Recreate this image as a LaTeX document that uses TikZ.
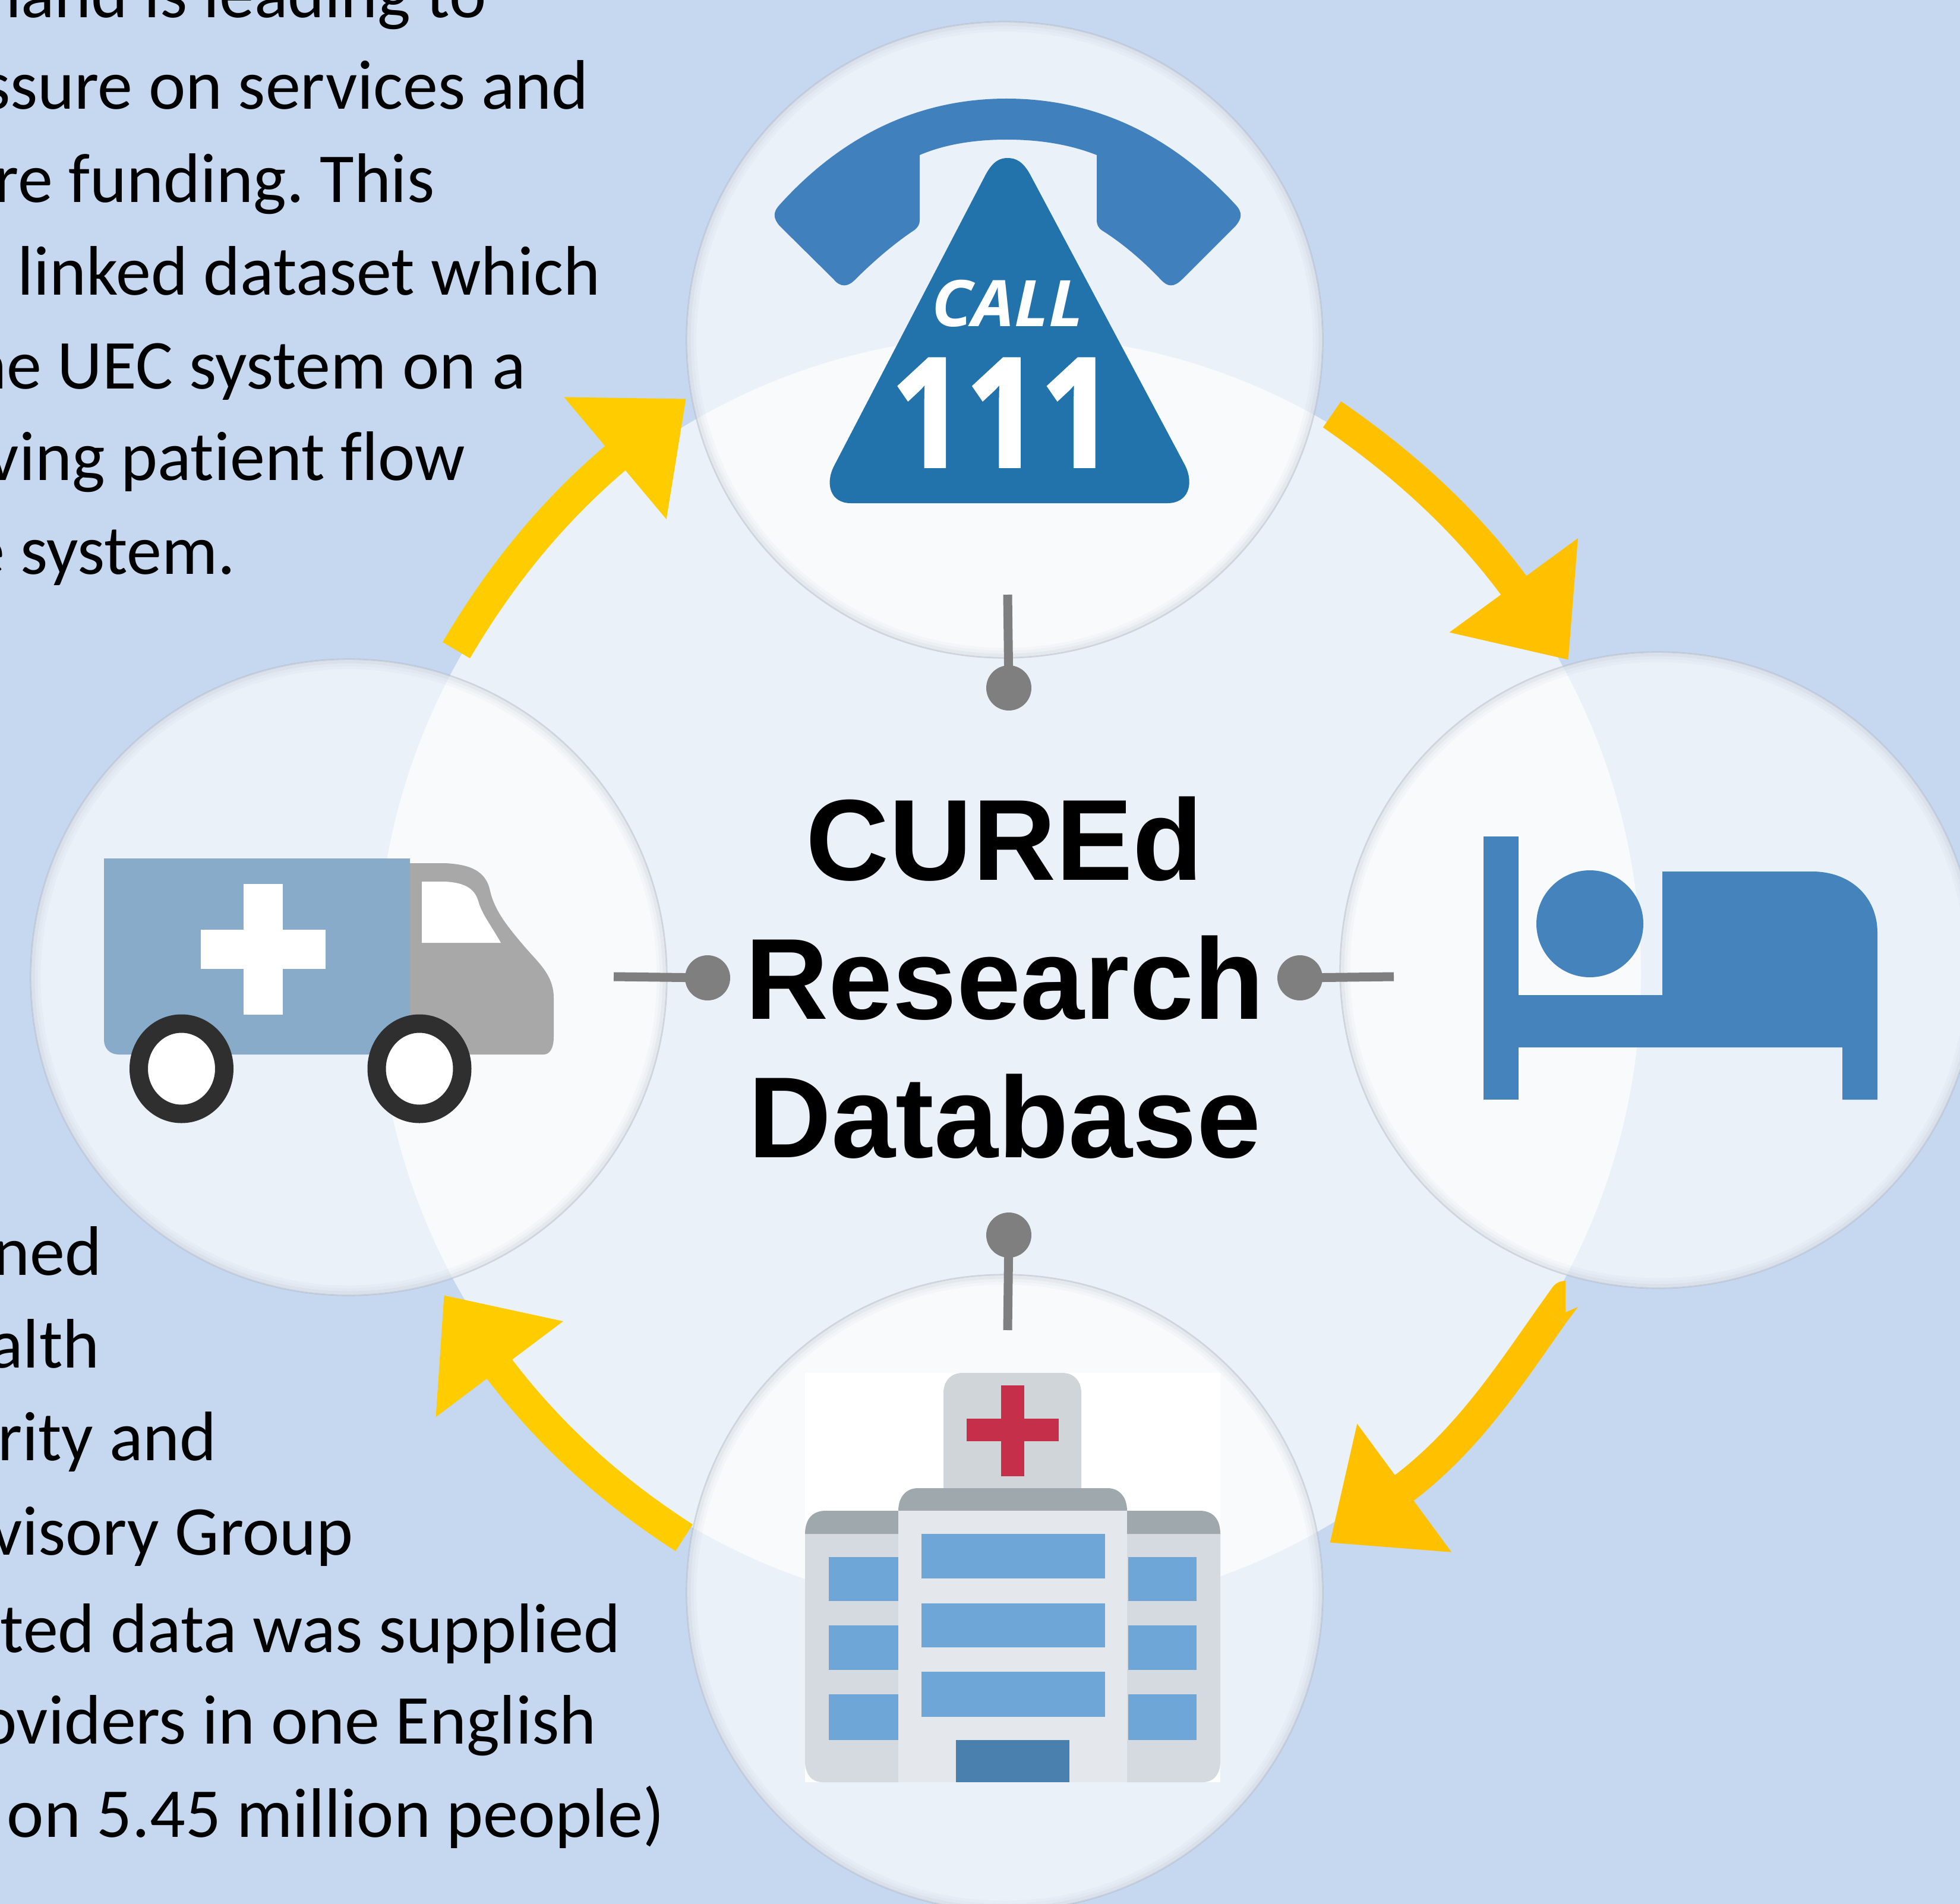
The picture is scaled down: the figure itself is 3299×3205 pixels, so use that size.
\documentclass[tikz,border=0pt]{standalone}
\usepackage{fontspec}
\setmainfont{Carlito}[Ligatures=NoCommon]
\newfontfamily\arialf{Liberation Sans}
\newfontfamily\numf{Open Sans}[BoldFeatures={FakeBold=1.5}]
\usetikzlibrary{arrows.meta}
\definecolor{bgc}{HTML}{C6D8EF}
\definecolor{shadec}{HTML}{7E88A0}
\definecolor{ygold}{HTML}{FFCC00}
\definecolor{yamber}{HTML}{FFC000}
\definecolor{pinc}{HTML}{7F7F7F}
\definecolor{bedc}{HTML}{4483BC}
\definecolor{handc}{HTML}{4080BC}
\definecolor{tric}{HTML}{2272AB}
\definecolor{boxc}{HTML}{87ABC9}
\definecolor{cabc}{HTML}{A8A8A8}
\definecolor{tyrec}{HTML}{2F2F2F}
\definecolor{signc}{HTML}{CFD5D9}
\definecolor{crossc}{HTML}{C62F4A}
\definecolor{roofc}{HTML}{9FA8AD}
\definecolor{midc}{HTML}{E4E8EC}
\definecolor{sidec}{HTML}{D5DAE0}
\definecolor{winc}{HTML}{6FA6D8}
\definecolor{doorc}{HTML}{4A80AE}
\tikzset{
  disc/.style={circle,minimum size=536pt,inner sep=0pt,fill=white,fill opacity=.65},
  pindot/.style={circle,minimum size=38pt,inner sep=0pt,fill=pinc},
  pinline/.style={draw=pinc,line width=7.5pt},
  flow/.style={line width=26.7pt,-{Triangle[length=78pt,width=129pt]}},
  body/.style={anchor=base east,inner sep=0pt,font=\fontsize{59}{70}\selectfont\frenchspacing,text=black},
  title/.style={anchor=base,inner sep=0pt,font=\arialf\bfseries\fontsize{97}{110}\selectfont,text=black}
}
\begin{document}
\begin{tikzpicture}[x=.5pt,y=-.5pt]
\useasboundingbox (0,0) rectangle (3299,3205);
\clip (0,0) rectangle (3299,3205);
\fill[bgc] (0,0) rectangle (3299,3205);
% texts
\node[body] (a0) at (819,30) {mand is leading to};
\node[body] (a1) at (991,184) {ssure on services and};
\node[body] (a2) at (732,341) {re funding. This};
\node[body] (a3) at (1011,496) {linked dataset which};
\node[body] (a4) at (885,654) {he UEC system on a};
\node[body] (a5) at (783,808) {ving patient flow};
\node[body] (a6) at (397,966) {e system.};
\node[body] (b0) at (172,2146) {ned};
\node[body] (b1) at (168,2302) {alth};
\node[body] (b2) at (365,2458) {rity and};
\node[body] (b3) at (595,2617) {visory Group};
\node[body] (b4) at (1045,2781) {ted data was supplied};
\node[body] (b5) at (1004,2935) {oviders in one English};
\node[body] (b6) at (1119,3092) {on 5.45 million people)};
% discs
\fill[white,fill opacity=.65] (1698,1640) ellipse [x radius=532pt,y radius=537.5pt];
\node[disc] (top) at (1691,572) {};
\node[disc] (right) at (2791,1633) {};
\node[disc] (bottom) at (1691,2681) {};
\node[disc] (left) at (587,1645) {};
\foreach \d in {top,right,bottom,left}{
  \foreach \r/\w/\o in {267.6/1.4/.32,265.5/2.5/.15,263/2.5/.08,260.5/2.5/.04}
    \draw[shadec,draw opacity=\o,line width=\w pt] (\d.center) circle [radius=\r pt];
}
% arrows
\coordinate (tlA) at (768,1094.5); \coordinate (tlB) at (1155,671);
\coordinate (trA) at (2242,697.5); \coordinate (trB) at (2640,1111);
\coordinate (brA) at (2613,2213); \coordinate (brB) at (2238,2597);
\coordinate (blA) at (1151.5,2588.5); \coordinate (blB) at (747,2180);
\draw[flow,ygold] (tlA) .. controls (839,974) and (926,863) .. (tlB);
\draw[flow,yamber] (trA) .. controls (2357,777) and (2463,869.5) .. (trB);
\draw[flow,yamber] (brA) .. controls (2541,2315) and (2468,2428) .. (brB);
\fill[yamber] (2591,2198) -- (2613,2167) .. controls (2620,2158) and (2628,2156) .. (2635,2156) -- (2635,2209) -- (2656,2200) -- (2635,2228) -- cycle;
\draw[flow,ygold] (blA) .. controls (1033.5,2512.5) and (927.5,2420) .. (blB);
% pins
\node[pindot] (dT) at (1698,1158) {};
\node[pindot] (dR) at (2188,1646) {};
\node[pindot] (dB) at (1698,2079) {};
\node[pindot] (dL) at (1191,1646) {};
\coordinate (pT) at (1696,1001); \coordinate (pR) at (2346,1644);
\coordinate (pB) at (1696,2239); \coordinate (pL) at (1033,1644);
\draw[pinline] (pT) -- (dT.center);
\draw[pinline] (pR) -- (dR.center);
\draw[pinline] (pB) -- (dB.center);
\draw[pinline] (pL) -- (dL.center);
% title
\node[title] (t1) at (1691,1481) {CUREd};
\node[title] (t2) at (1691,1715) {Research};
\node[title] (t3) at (1691,1948) {Database};
% phone
\fill[handc] (1312,345) .. controls (1420,225) and (1550,166) .. (1694,166)
  .. controls (1840,166) and (1970,225) .. (2080,345)
  .. controls (2092,358) and (2090,368) .. (2080,380) -- (1990,470)
  .. controls (1975,485) and (1965,482) .. (1955,472)
  .. controls (1925,440) and (1890,410) .. (1855,388)
  .. controls (1848,383) and (1846,378) .. (1846,370) -- (1846,261)
  .. controls (1800,243) and (1750,235) .. (1694,235)
  .. controls (1640,235) and (1590,243) .. (1548,261) -- (1548,370)
  .. controls (1548,378) and (1545,383) .. (1538,388)
  .. controls (1505,410) and (1470,440) .. (1438,472)
  .. controls (1428,482) and (1415,485) .. (1403,470) -- (1312,380)
  .. controls (1302,368) and (1300,358) .. (1312,345) -- cycle;
\fill[tric] (1404,784) -- (1659,294) .. controls (1672,270) and (1684,266) .. (1696,266)
  .. controls (1710,266) and (1722,272) .. (1734,294) -- (1995,784)
  .. controls (2010,815) and (2000,847) .. (1965,847) -- (1432,847)
  .. controls (1398,847) and (1388,815) .. (1404,784) -- cycle;
\node[anchor=base,inner sep=0pt,xscale=1.04,text=white,font=\numf\bfseries\itshape\fontsize{54}{60}\selectfont] (call) at (1696,549) {CALL};
\node[anchor=base,inner sep=0pt,xscale=.86,text=white,font=\numf\bfseries\fontsize{128}{140}\selectfont] (num) at (1688,786) {111};
% bed
\fill[bedc] (2497,1408) rectangle (2556,1851);
\fill[bedc] (2676,1555) circle [radius=45pt];
\fill[bedc] (2556,1675) -- (2798,1675) -- (2798,1467) -- (3050,1467)
  .. controls (3115,1467) and (3160,1510) .. (3160,1570) -- (3160,1851) -- (3101,1851) -- (3101,1763) -- (2556,1763) -- cycle;
% ambulance
\fill[cabc] (690,1453) -- (749,1453) .. controls (790,1455) and (818,1465) .. (825,1500)
  .. controls (832,1530) and (850,1555) .. (880,1590)
  .. controls (905,1620) and (932,1640) .. (932,1680) -- (932,1745)
  .. controls (932,1765) and (925,1775) .. (915,1775) -- (690,1775) -- cycle;
\fill[white] (710,1484) -- (749,1484) .. controls (785,1486) and (800,1497) .. (806,1520) .. controls (812,1540) and (828,1560) .. (843,1587) -- (710,1587) -- cycle;
\fill[boxc] (175,1445) -- (690,1445) -- (690,1775) -- (200,1775) .. controls (185,1775) and (175,1765) .. (175,1750) -- cycle;
\fill[white] (410,1488) rectangle (476,1708);
\fill[white] (338,1565) rectangle (548,1631);
\fill[white,draw=tyrec,line width=15.5pt] (305.5,1799) ellipse [x radius=36pt,y radius=38pt];
\fill[white,draw=tyrec,line width=15.5pt] (706,1799) ellipse [x radius=36pt,y radius=38pt];
% hospital
\fill[white] (1355,2311) rectangle (2054,3000);
\fill[sidec] (1355,2582) -- (1512,2582) -- (1512,3000) -- (1385,3000) .. controls (1365,3000) and (1355,2985) .. (1355,2965) -- cycle;
\fill[sidec] (2054,2582) -- (1897,2582) -- (1897,3000) -- (2024,3000) .. controls (2044,3000) and (2054,2985) .. (2054,2965) -- cycle;
\fill[roofc] (1355,2582) .. controls (1355,2560) and (1365,2543) .. (1390,2543) -- (1512,2543) -- (1512,2582) -- cycle;
\fill[roofc] (2054,2582) .. controls (2054,2560) and (2044,2543) .. (2019,2543) -- (1897,2543) -- (1897,2582) -- cycle;
\fill[signc] (1588,2505) -- (1588,2345) .. controls (1588,2325) and (1600,2311) .. (1620,2311) -- (1788,2311) .. controls (1808,2311) and (1820,2325) .. (1820,2345) -- (1820,2505) -- cycle;
\fill[crossc] (1685,2332) rectangle (1724,2485);
\fill[crossc] (1627,2388) rectangle (1782,2426);
\fill[roofc] (1512,2543) .. controls (1512,2520) and (1525,2505) .. (1545,2505) -- (1864,2505) .. controls (1884,2505) and (1897,2520) .. (1897,2543) -- cycle;
\fill[midc] (1512,2543) rectangle (1897,3000);
\foreach \ya/\yb in {2582/2657,2699/2773,2814/2890}
  \fill[winc] (1551,\ya) rectangle (1860,\yb);
\foreach \ya/\yb in {2621/2695,2736/2811,2852/2929}{
  \fill[winc] (1395,\ya) rectangle (1512,\yb);
  \fill[winc] (1899,\ya) rectangle (2014,\yb);
}
\fill[doorc] (1609,2929) rectangle (1800,3000);
\end{tikzpicture}
\end{document}
